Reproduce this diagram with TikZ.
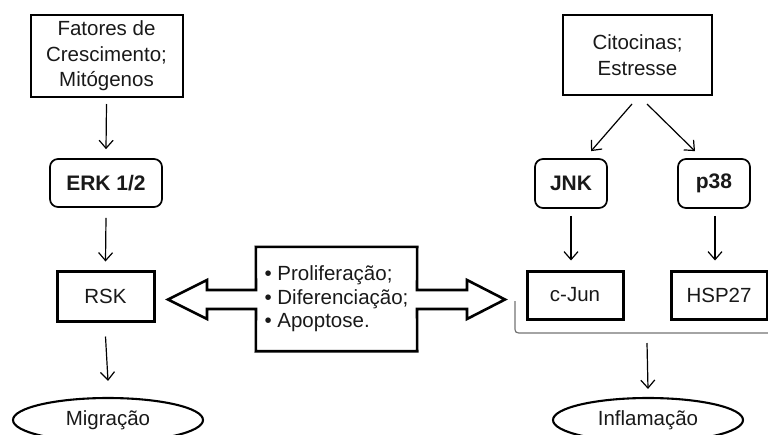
\documentclass[tikz,border=0pt]{standalone}
\usepackage{fontspec}
\setmainfont{Liberation Sans}
\usetikzlibrary{arrows.meta,shapes.geometric}
\tikzset{
  txt/.style={font=\fontsize{20.5}{25.5}\selectfont, text=black!90, inner sep=0pt, align=center},
  srcbox/.style={txt, draw, line width=2pt},
  kinbox/.style={txt, draw, line width=1.7pt, rounded corners=8pt, font=\fontsize{21}{25}\selectfont\bfseries},
  tgtbox/.style={txt, draw, line width=3pt},
  outell/.style={txt, draw, ellipse, line width=2.1pt, minimum width=190pt, minimum height=44pt},
  arr/.style={line width=1.2pt, -{Straight Barb[length=8pt,width=14pt,line width=1.2pt]}},
  brace/.style={line width=1.2pt, draw=black!55}
}
\begin{document}
\begin{tikzpicture}[x=1pt,y=-1pt]
\useasboundingbox (0,0) rectangle (768,434);
\clip (0,0) rectangle (768,434);
% left column
\node[srcbox, minimum width=152pt, minimum height=82pt] (fat) at (106.5,56) {Fatores de\\Crescimento;\\Mitógenos};
\node[kinbox, minimum width=112pt, minimum height=48pt] (erk) at (106,183) {ERK 1/2};
\node[tgtbox, minimum width=97pt, minimum height=50pt] (rsk) at (105.5,296) {RSK};
\node[outell] (mig) at (108,420) {Migração};
% right column
\node[srcbox, minimum width=149pt, minimum height=80pt] (cit) at (637.5,55) {Citocinas;\\Estresse};
\node[kinbox, minimum width=72pt, minimum height=49pt] (jnk) at (571,183.5) {JNK};
\node[kinbox, minimum width=72pt, minimum height=49pt] (p38) at (714,183.5) {p38};
\node[tgtbox, minimum width=96pt, minimum height=48pt] (cjun) at (575,295) {c-Jun};
\node[tgtbox, minimum width=96pt, minimum height=48pt] (hsp) at (719,295) {HSP27};
\node[outell] (inf) at (648,420) {Inflamação};
% middle box with double arrow
\node[txt, align=left, font=\fontsize{20.5}{23.5}\selectfont, minimum width=161pt, minimum height=104pt] (mid) at (336.5,299)
  {• Proliferação;\\• Diferenciação;\\• Apoptose.};
\draw[line width=2.6pt, line join=miter]
  (mid.north west) -- (mid.north east) -- (417,290) -- (467,290) -- (467,280) -- (505,299.5)
  -- (467,319) -- (467,309) -- (417,309) -- (mid.south east) -- (mid.south west)
  -- (256,309) -- (207,309) -- (207,319) -- (168,299.5) -- (207,280) -- (207,290)
  -- (256,290) -- cycle;
% connectors left
\draw[arr] ([yshift=-6pt]fat.south) -- ([yshift=9pt]erk.north);
\draw[arr] ([yshift=-10pt]erk.south) -- ([yshift=8pt]rsk.north);
\draw[arr] ([yshift=-14pt]rsk.south) -- ([yshift=16pt]mig.north);
% connectors right
\draw[arr] ([xshift=-5.5pt,yshift=-8pt]cit.south) -- ([xshift=20pt,yshift=7pt]jnk.north);
\draw[arr] ([xshift=9.5pt,yshift=-8pt]cit.south) -- ([xshift=-19pt,yshift=7pt]p38.north);
\draw[arr] ([yshift=-7pt]jnk.south) -- ([xshift=-4pt,yshift=9pt]cjun.north);
\draw[arr] ([xshift=1pt,yshift=-7pt]p38.south) -- ([xshift=-4pt,yshift=9pt]hsp.north);
% bracket
\coordinate (bkt) at (647,343);
\draw[brace] (515,301) -- (515,326) .. controls (515,333) .. (523,333) -- (770,333);
\draw[arr] (bkt) -- ([yshift=8pt]inf.north);
\end{tikzpicture}
\end{document}
